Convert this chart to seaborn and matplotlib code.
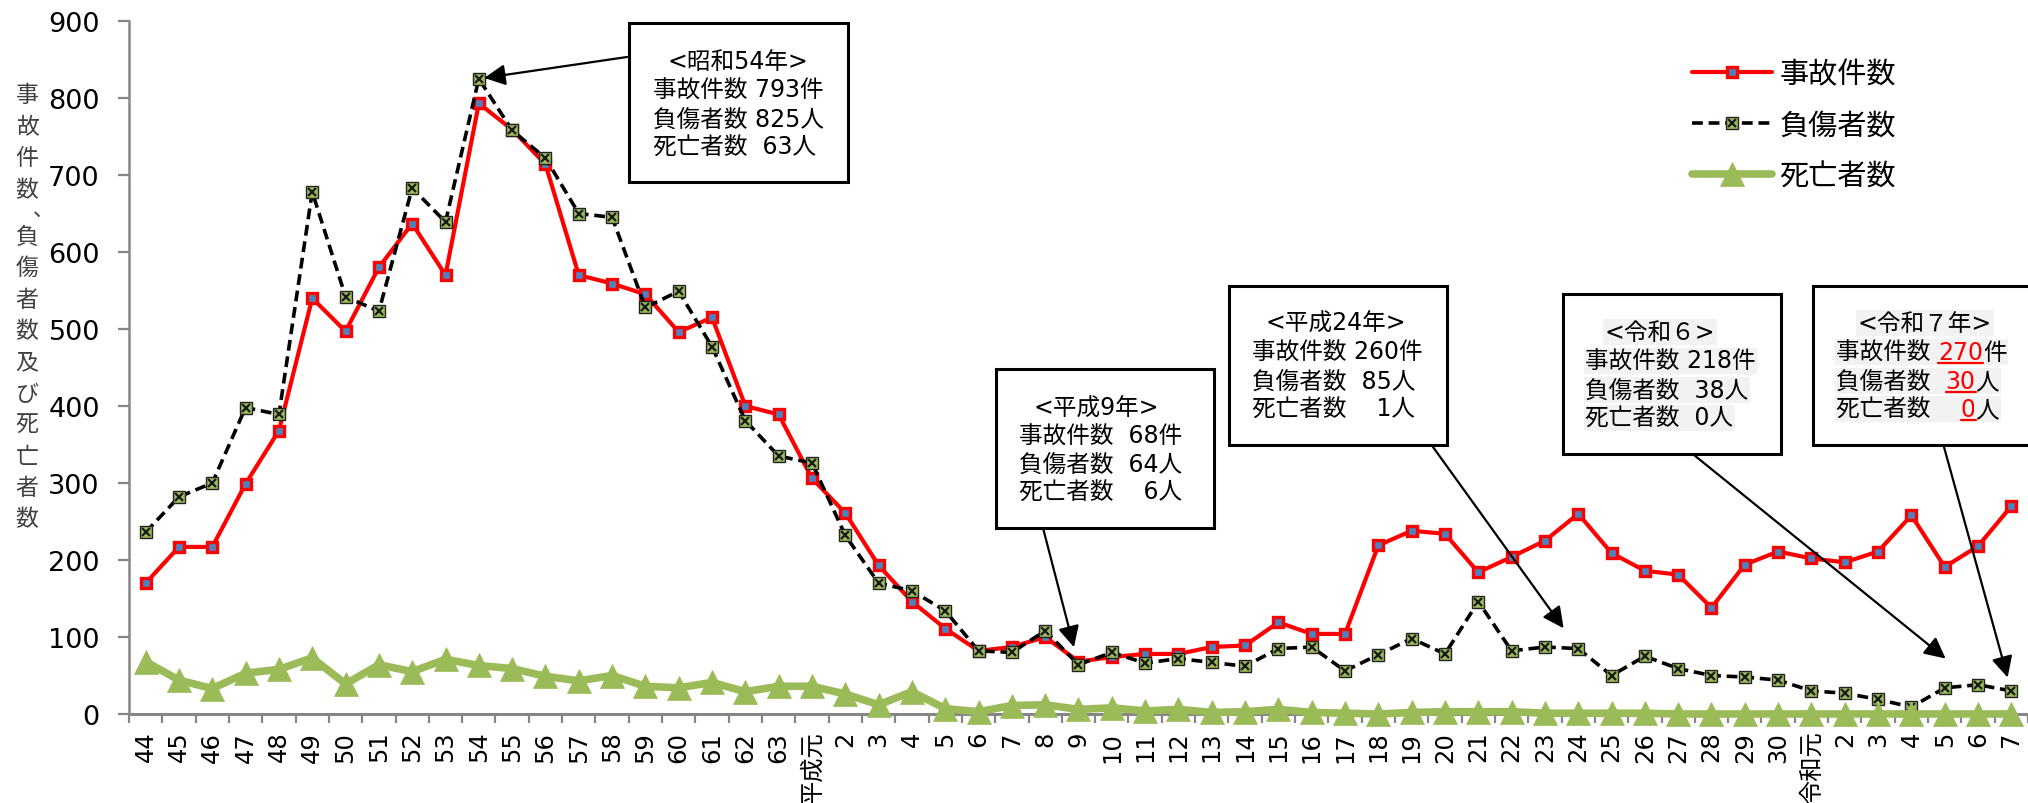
import numpy as np
import pandas as pd
import matplotlib
matplotlib.use("Agg")
import matplotlib.pyplot as plt
from matplotlib.lines import Line2D
from matplotlib.patches import Rectangle
from matplotlib.legend_handler import HandlerTuple
import seaborn as sns

# ---- data -------------------------------------------------------------
years = (["44", "45", "46", "47", "48", "49", "50", "51", "52", "53",
          "54", "55", "56", "57", "58", "59", "60", "61", "62", "63",
          "平成元"] + [str(i) for i in range(2, 31)] +
         ["令和元"] + [str(i) for i in range(2, 8)])

accidents = [170, 217, 217, 299, 368, 540, 497, 580, 637, 570,
             793, 759, 714, 570, 559, 545, 496, 515, 400, 389,
             306, 261, 193, 146, 111, 82, 87, 100, 68, 74,
             78, 78, 87, 89, 119, 104, 104, 219, 238, 234,
             184, 204, 225, 260, 209, 186, 181, 138, 194, 211,
             202, 197, 211, 258, 191, 218, 270]

injured = [236, 282, 300, 398, 389, 678, 542, 523, 683, 639,
           825, 758, 722, 650, 645, 528, 549, 477, 381, 335,
           326, 232, 170, 160, 134, 82, 80, 108, 64, 80,
           66, 72, 67, 62, 85, 87, 56, 77, 98, 78,
           146, 82, 87, 85, 50, 75, 59, 50, 48, 44,
           30, 27, 19, 9, 34, 38, 30]

deaths = [68, 44, 33, 53, 58, 73, 39, 64, 55, 71,
          63, 59, 49, 43, 50, 36, 34, 41, 29, 36,
          36, 26, 12, 29, 7, 3, 11, 12, 6, 8,
          4, 6, 2, 3, 6, 2, 1, 0, 2, 3,
          3, 3, 1, 1, 1, 1, 0, 0, 0, 0,
          0, 0, 0, 0, 0, 0, 0]

series_names = ["事故件数", "負傷者数", "死亡者数"]
ylabel_text = "事故件数、負傷者数及び死亡者数"

# ---- style ------------------------------------------------------------
sns.set_theme(style="white")
plt.rcParams["font.family"] = ["DejaVu Sans", "Noto Sans CJK JP"]
plt.rcParams["text.color"] = "black"

RED, BLUE, GREEN, GRAY = "#FF0000", "#4F81BD", "#9BBB59", "#868686"

W, H = 2028, 804
fig = plt.figure(figsize=(W / 100, H / 100), dpi=100)
ax = fig.add_axes([129 / W, 1 - 715 / H, (W - 129) / W, (715 - 22) / H])

x = np.arange(len(years))
df = pd.DataFrame({"x": x, series_names[0]: accidents,
                   series_names[1]: injured, series_names[2]: deaths})


def new_lines(before):
    return ax.lines[before:]


n0 = len(ax.lines)
sns.lineplot(data=df, x="x", y=series_names[0], ax=ax, color=RED,
             linewidth=3.0, marker="s", markersize=7.5,
             markerfacecolor=BLUE, markeredgecolor=RED, markeredgewidth=2.4,
             sort=False, zorder=3)
h_acc = new_lines(n0)[0]

n0 = len(ax.lines)
sns.lineplot(data=df, x="x", y=series_names[1], ax=ax, color="black",
             linewidth=2.6, linestyle=(0, (3, 1.6)), marker="s", markersize=8,
             markerfacecolor=GREEN, markeredgecolor="#222222",
             markeredgewidth=1.0, sort=False, zorder=4)
h_inj = new_lines(n0)[0]
n0 = len(ax.lines)
sns.lineplot(data=df, x="x", y=series_names[1], ax=ax, color="black",
             linestyle="none", marker="x", markersize=6.3,
             markeredgecolor="#1a1a1a", markeredgewidth=1.6,
             sort=False, zorder=5)
h_inj_x = new_lines(n0)[0]

n0 = len(ax.lines)
sns.lineplot(data=df, x="x", y=series_names[2], ax=ax, color=GREEN,
             linewidth=5.5, marker="^", markersize=17,
             markerfacecolor=GREEN, markeredgecolor=GREEN,
             markeredgewidth=0.5, sort=False, zorder=6, clip_on=False)
h_dth = new_lines(n0)[0]

# ---- axes -------------------------------------------------------------
ax.set_xlabel("")
ax.set_ylabel("")
ax.set_xlim(-0.5, len(years) - 0.5)
ax.set_ylim(0, 900)
ax.set_yticks(range(0, 901, 100))
ax.set_xticks(x)
ax.set_xticklabels(years, rotation=90, fontsize=17.5, color="black")
ax.set_xticks(np.arange(-0.5, len(years)), minor=True)
ax.tick_params(axis="x", which="major", bottom=False, length=0, pad=12)
ax.tick_params(axis="x", which="minor", bottom=True, length=6.5, width=1.6,
               color=GRAY, direction="out")
ax.tick_params(axis="y", left=True, length=8, width=1.6, color=GRAY,
               pad=13, labelsize=19.5, labelcolor="black")
for s in ["top", "right"]:
    ax.spines[s].set_visible(False)
ax.spines["left"].set_color(GRAY)
ax.spines["left"].set_linewidth(1.8)
ax.spines["bottom"].set_color(GRAY)
ax.spines["bottom"].set_linewidth(2.2)

# vertical y-axis title, one character per row
yy = 96
step = 31.4
for ch in ylabel_text:
    if ch == "、":
        fig.text(43 / W, 1 - (yy - 12) / H, ch, ha="center", va="center",
                 fontsize=15, color="#404040")
        yy += step / 2
        continue
    fig.text(27 / W, 1 - yy / H, ch, ha="center", va="center",
             fontsize=16.5, color="#404040")
    yy += step

# ---- legend -----------------------------------------------------------
fig.legend([h_acc, (h_inj, h_inj_x), h_dth], series_names,
           handler_map={tuple: HandlerTuple(ndivide=1, pad=0)},
           loc="upper left", bbox_to_anchor=(1692 / W, 1 - 61 / H),
           frameon=False, fontsize=21, handlelength=2.75,
           handletextpad=0.25, labelspacing=0.8, borderpad=0,
           borderaxespad=0)

# ---- callout boxes ----------------------------------------------------
FS = 17
renderer = fig.canvas.get_renderer()


def fx(px):
    return px / W


def fy(py):
    return 1 - py / H


def box(x0, y0, x1, y1):
    fig.add_artist(Rectangle((fx(x0), fy(y1)), (x1 - x0) / W, (y1 - y0) / H,
                             transform=fig.transFigure, facecolor="white",
                             edgecolor="black", linewidth=2.2, zorder=10))


def line_text(xp, yp, s, ha="left", shade=False):
    kw = {}
    if shade:
        kw["bbox"] = dict(facecolor="#F2F2F2", edgecolor="none", pad=1)
    return fig.text(fx(xp), fy(yp), s, ha=ha, va="center", fontsize=FS,
                    color="black", zorder=11, **kw)


def run_text(xp, yp, parts, shade=False):
    cur = xp
    for s, col, under in parts:
        kw = {}
        if shade:
            kw["bbox"] = dict(facecolor="#F2F2F2", edgecolor="none", pad=1)
        t = fig.text(cur / W, fy(yp), s, ha="left", va="center",
                     fontsize=FS, color=col, zorder=11, **kw)
        bb = t.get_window_extent(renderer)
        if under:
            uy = bb.y0 + 1
            fig.add_artist(Line2D([bb.x0 / W, bb.x1 / W], [uy / H, uy / H],
                                  transform=fig.transFigure, color=col,
                                  linewidth=1.6, zorder=12))
        cur = bb.x1


def arrow(idx, val, sx, sy, shrink):
    ax.annotate("", xy=(idx, val), xycoords="data",
                xytext=(fx(sx), fy(sy)), textcoords="figure fraction",
                arrowprops=dict(arrowstyle="-|>", color="black", lw=1.6,
                                mutation_scale=32, shrinkA=0,
                                shrinkB=shrink),
                annotation_clip=False, zorder=9)


def idx_of(label, start=0):
    return years.index(label, start)


i54 = idx_of("54")
i_h9 = idx_of("9", idx_of("平成元"))
i_h24 = idx_of("24")
i_r6 = idx_of("6", idx_of("令和元"))
i_r7 = idx_of("7", idx_of("令和元"))

# 昭和54年
box(629, 24, 848, 183)
line_text(738, 62, "<昭和54年>", ha="center")
line_text(653, 91, f"事故件数 {accidents[i54]}件")
line_text(653, 120, f"負傷者数 {injured[i54]}人")
line_text(653, 148, f"死亡者数  {deaths[i54]}人")
arrow(i54, injured[i54], 627, 58, 4)

# 平成9年
box(996, 370, 1214, 529)
line_text(1096, 409, "<平成9年>", ha="center")
line_text(1019, 437, f"事故件数  {accidents[i_h9]}件")
line_text(1019, 465, f"負傷者数  {injured[i_h9]}人")
line_text(1019, 493, f"死亡者数    {deaths[i_h9]}人")
arrow(i_h9, injured[i_h9], 1043, 529, 13)

# 平成24年
box(1229, 287, 1447, 446)
line_text(1336, 324, "<平成24年>", ha="center")
line_text(1252, 353, f"事故件数 {accidents[i_h24]}件")
line_text(1252, 382, f"負傷者数  {injured[i_h24]}人")
line_text(1252, 410, f"死亡者数    {deaths[i_h24]}人")
arrow(i_h24, injured[i_h24], 1433, 448, 18)

# 令和6年
box(1563, 295, 1781, 455)
line_text(1660, 333, "<令和６>", ha="center", shade=True)
line_text(1585, 362, f"事故件数 {accidents[i_r6]}件", shade=True)
line_text(1585, 391, f"負傷者数  {injured[i_r6]}人", shade=True)
line_text(1585, 419, f"死亡者数  {deaths[i_r6]}人", shade=True)
arrow(i_r6, injured[i_r6], 1694, 456, 30)

# 令和7年
box(1813, 287, 2045, 446)
line_text(1925, 324, "<令和７年>", ha="center", shade=True)
run_text(1836, 353, [("事故件数 ", "black", False),
                     (f"{accidents[i_r7]}", RED, True),
                     ("件", "black", False)], shade=True)
run_text(1836, 382, [("負傷者数  ", "black", False),
                     (f"{injured[i_r7]}", RED, True),
                     ("人", "black", False)], shade=True)
run_text(1836, 410, [("死亡者数    ", "black", False),
                     (f"{deaths[i_r7]}", RED, True),
                     ("人", "black", False)], shade=True)
arrow(i_r7, injured[i_r7], 1944, 448, 10)

fig.savefig("out.png", dpi=100, facecolor="white")
